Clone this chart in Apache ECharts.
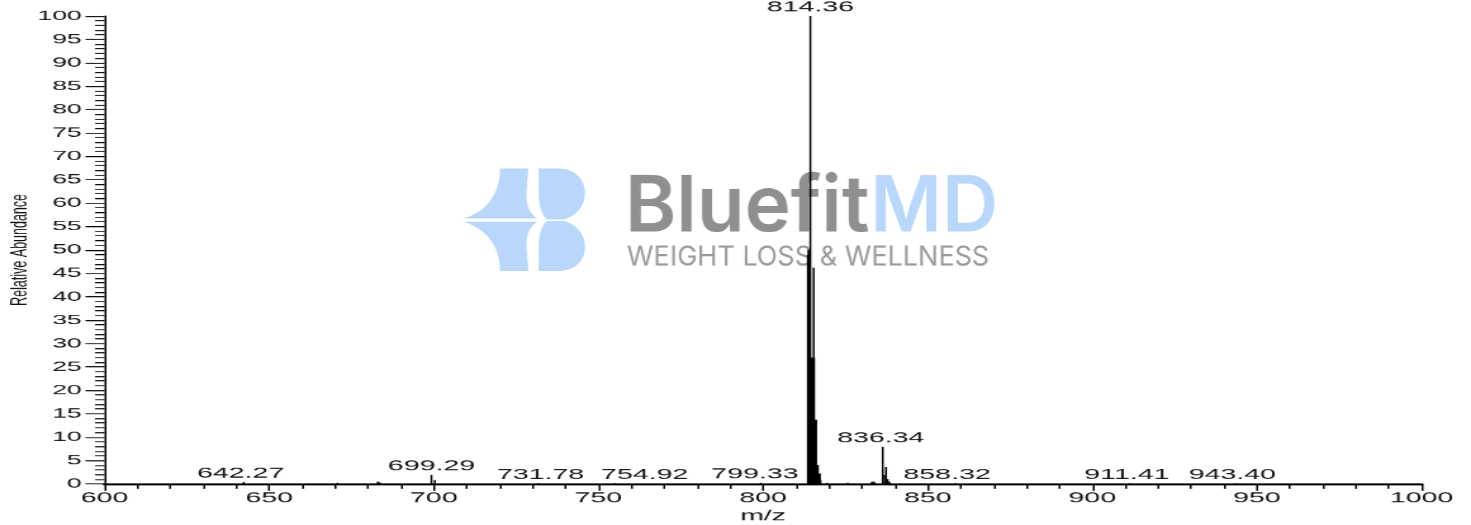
<!DOCTYPE html>
<html>
<head>
<meta charset="utf-8">
<script src="https://cdn.jsdelivr.net/npm/echarts@6.0.0/dist/echarts.min.js"></script>
<style>
  html, body { margin: 0; padding: 0; background: #ffffff; overflow: hidden; }
  #chart { width: 774px; height: 525px; transform-origin: 0 0; }
</style>
</head>
<body>
<div id="chart"></div>
<script>
// ---- data ----
const peakMz = [
  642.27, 670.7, 683.0, 683.6, 699.29, 700.3, 731.78, 754.92, 799.33,
  813.6, 813.8, 814.0, 814.15, 814.36, 814.55, 814.7, 814.85, 815.0, 815.15,
  815.36, 815.5, 815.62, 815.78, 815.94, 816.1, 816.25, 816.45, 816.65,
  816.85, 817.05, 817.25, 817.45, 819.4, 825.7, 833.0, 833.4, 833.8,
  836.34, 836.84, 837.34, 837.84, 838.34, 858.32, 911.41, 943.40
];
const peakIntensity = [
  0.4, 0.2, 0.5, 0.3, 1.9, 0.8, 0.15, 0.15, 0.2,
  49, 50, 50, 50, 100, 27, 27, 27, 27, 27,
  46.2, 27, 13.7, 13.7, 13.7, 13.7, 4, 4, 4,
  2.2, 2.2, 2.2, 0.8, 0.2, 0.2, 0.4, 0.5, 0.4,
  7.9, 1.9, 3.6, 1.0, 0.5, 0.15, 0.1, 0.1
];
const labeledMz = [642.27, 699.29, 731.78, 754.92, 799.33, 814.36, 836.34, 858.32, 911.41, 943.40];
const labelShiftPx = [-3, 0, 2, 30, -6, 0, -2, -8, -3, -3];

const S = 1471 / 774;
document.getElementById('chart').style.transform = 'scaleX(' + S + ')';

const seriesData = peakMz.map((m, i) => {
  const item = { value: [m, peakIntensity[i]] };
  const li = labeledMz.indexOf(m);
  if (li >= 0) {
    item.label = { show: true, offset: [labelShiftPx[li] / S, 0] };
  }
  return item;
});

// watermark logo outline (decoration), in the reference's zoomed pixel space
const logoPaths = [
  'M150,55 L235,55 C232,120 215,175 262,205 L40,205 C110,185 150,130 150,55 Z',
  'M40,215 L262,215 C215,245 232,300 235,362 L150,362 C150,290 110,235 40,215 Z',
  'M265,55 L330,55 C372,55 405,88 405,128 C405,170 375,200 340,208 L290,208 C255,170 270,110 265,55 Z',
  'M290,212 L340,212 C380,222 405,252 405,292 C405,332 372,362 330,362 L265,362 C270,305 255,250 290,212 Z'
];
function pathToPoints(d) {
  const tok = d.match(/[MLCZ]|-?\d+(\.\d+)?/g);
  const pts = []; let i = 0, cur = [0, 0], cmd = '';
  const num = () => parseFloat(tok[i++]);
  while (i < tok.length) {
    if (/[MLCZ]/.test(tok[i])) { cmd = tok[i++]; if (cmd === 'Z') continue; }
    if (cmd === 'M' || cmd === 'L') { cur = [num(), num()]; pts.push(cur); }
    else if (cmd === 'C') {
      const p1 = [num(), num()], p2 = [num(), num()], p3 = [num(), num()];
      const p0 = cur;
      for (let k = 1; k <= 16; k++) {
        const t = k / 16, u = 1 - t;
        pts.push([
          u*u*u*p0[0] + 3*u*u*t*p1[0] + 3*u*t*t*p2[0] + t*t*t*p3[0],
          u*u*u*p0[1] + 3*u*u*t*p1[1] + 3*u*t*t*p2[1] + t*t*t*p3[1]
        ]);
      }
      cur = p3;
    }
  }
  return pts;
}
const logoElements = logoPaths.map(d => ({
  type: 'polygon', x: 450 / S, y: 150, scaleX: 1 / (3 * S), scaleY: 1 / 3, z: 0, silent: true,
  shape: { points: pathToPoints(d) }, style: { fill: '#b9d7fb' }
}));

const chart = echarts.init(document.getElementById('chart'), null, { renderer: 'canvas', devicePixelRatio: 1.5 });
chart.setOption({
  animation: false,
  backgroundColor: '#ffffff',
  grid: { left: 55, right: 26, top: 16, bottom: 41.5, containLabel: false, outerBoundsMode: 'none' },
  xAxis: {
    type: 'value', min: 600, max: 1000, interval: 50,
    name: 'm/z', nameLocation: 'middle', nameGap: 25, nameMoveOverlap: false,
    nameTextStyle: { fontFamily: 'Liberation Sans', fontSize: 15, color: '#111' },
    axisLine: { onZero: false, lineStyle: { color: '#000', width: 2 } },
    axisTick: { length: 7, lineStyle: { color: '#000', width: 1 } },
    minorTick: { show: true, splitNumber: 5, length: 5, lineStyle: { color: '#000', width: 1 } },
    splitLine: { show: false },
    axisLabel: { margin: 7, fontFamily: 'Liberation Sans', fontSize: 15, color: '#111',
                 formatter: v => String(v) }
  },
  yAxis: {
    type: 'value', min: 0, max: 100, interval: 5,
    name: 'Relative Abundance', nameLocation: 'middle', nameGap: 38, nameRotate: 90,
    nameMoveOverlap: false,
    nameTextStyle: { fontFamily: 'Liberation Sans', fontSize: 12.5, color: '#111' },
    axisLine: { show: true, onZero: false, lineStyle: { color: '#000', width: 1 } },
    axisTick: { show: true, length: 10, lineStyle: { color: '#000', width: 1 } },
    minorTick: { show: true, splitNumber: 5, length: 5, lineStyle: { color: '#000', width: 1 } },
    splitLine: { show: false },
    axisLabel: { margin: 12, fontFamily: 'Liberation Sans', fontSize: 14, color: '#111',
                 formatter: v => String(v) }
  },
  graphic: logoElements.concat([
    { type: 'text', x: 625 / S, y: 208, scaleX: 1 / S, z: 0, silent: true,
      style: { text: 'Bluefit', font: '600 78px Inter', fill: '#8f8f8f',
               textAlign: 'left', textVerticalAlign: 'middle' } },
    { type: 'text', x: 870 / S, y: 208, scaleX: 1 / S, z: 0, silent: true,
      style: { text: 'MD', font: '600 78px Inter', fill: '#b9d7fb',
               textAlign: 'left', textVerticalAlign: 'middle' } },
    { type: 'text', x: 627 / S, y: 257, scaleX: 1 / S, z: 0, silent: true,
      style: { text: 'WEIGHT LOSS & WELLNESS', font: '400 27px Inter', fill: '#9a9a9a',
               textAlign: 'left', textVerticalAlign: 'middle' } }
  ]),
  series: [{
    type: 'bar',
    data: seriesData,
    barWidth: 1,
    itemStyle: { color: '#000' },
    z: 3,
    label: {
      show: false, position: 'top', distance: 1,
      fontFamily: 'Liberation Sans', fontSize: 15, color: '#111',
      formatter: p => p.value[0].toFixed(2)
    }
  }]
});
</script>
</body>
</html>
